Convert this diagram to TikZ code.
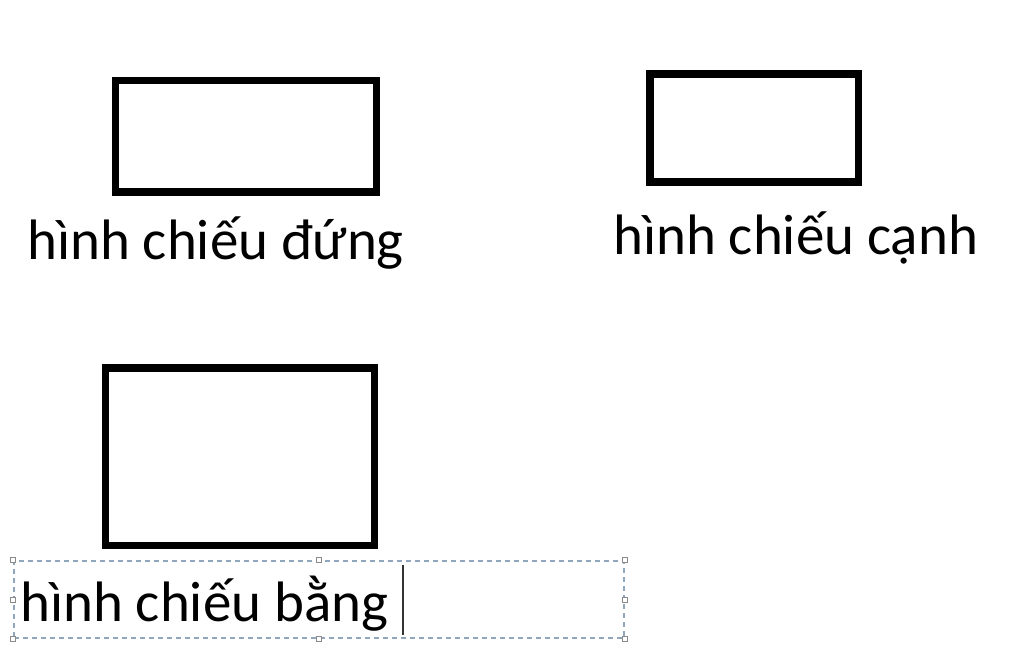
\documentclass[tikz,border=0pt]{standalone}
\usepackage{fontspec}
\setmainfont{Carlito}
\definecolor{selblue}{HTML}{8FA6BC}
\definecolor{handlegray}{HTML}{8A8A8A}
\definecolor{cursorgray}{HTML}{333333}
\tikzset{
  viewbox/.style={draw=black, line width=7.5pt, fill=white, inner sep=0pt, rectangle},
  caption/.style={anchor=base west, inner sep=0pt, font=\fontsize{57}{60}\selectfont},
  selbox/.style={draw=selblue, line width=1.3pt, dash pattern=on 5pt off 4pt, rectangle, inner sep=0pt},
  handle/.style={draw=handlegray, fill=white, line width=1pt, rectangle, minimum size=5pt, inner sep=0pt},
}
\begin{document}
\begin{tikzpicture}[x=1pt,y=-1pt]
\useasboundingbox[fill=white] (0,0) rectangle (1024,657);
% views
\node[viewbox, minimum width=261pt, minimum height=111.7pt] (front) at (245.8,136.2) {};
\node[viewbox, minimum width=208.3pt, minimum height=108pt] (side) at (754.3,128.2) {};
\node[viewbox, minimum width=269pt, minimum height=177.5pt] (top) at (240,456.8) {};
% captions
\node[caption] (frontlbl) at (27,259) {hình chiếu đứng};
\node[caption] (sidelbl) at (613,254) {hình chiếu cạnh};
% selected text box
\node[selbox, minimum width=610pt, minimum height=77pt] (tbox) at (319,599.5) {};
\node[caption] (toplbl) at (20,621) {hình chiếu bằng};
\coordinate (curtop) at (403,565);
\coordinate (curbot) at (403,635);
\draw[cursorgray, line width=1.5pt] (curtop) -- (curbot);
% handles
\foreach \a [count=\i] in {north west,north,north east,west,east,south west,south,south east}
  \node[handle] (h\i) at (tbox.\a) {};
\end{tikzpicture}
\end{document}
